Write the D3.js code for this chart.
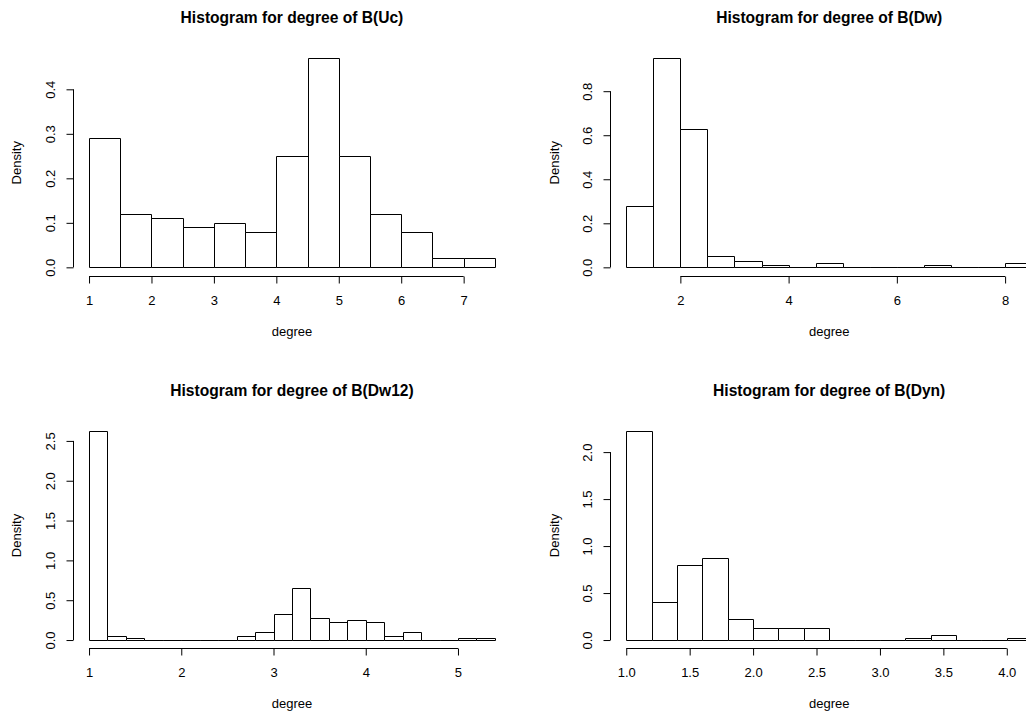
<!DOCTYPE html>
<html>
<head>
<meta charset="utf-8">
<script src="https://cdn.jsdelivr.net/npm/d3@7"></script>
<style>
  html, body { margin: 0; padding: 0; background: #fff; }
  svg { display: block; }
  text { font-family: "Liberation Sans", Arial, Helvetica, sans-serif; fill: #000; }
</style>
</head>
<body>
<svg id="chart" width="1026" height="713"></svg>
<script>
// ---------- Data ----------
// Panel 1: B(Uc)
const ucBreaks  = [1, 1.5, 2, 2.5, 3, 3.5, 4, 4.5, 5, 5.5, 6, 6.5, 7, 7.5];
const ucDensity = [0.29, 0.12, 0.11, 0.09, 0.10, 0.08, 0.25, 0.47, 0.25, 0.12, 0.08, 0.02, 0.02];
const ucXTicks  = [1, 2, 3, 4, 5, 6, 7];
const ucXLabels = ["1", "2", "3", "4", "5", "6", "7"];
const ucYTicks  = [0, 0.1, 0.2, 0.3, 0.4];
const ucYLabels = ["0.0", "0.1", "0.2", "0.3", "0.4"];

// Panel 2: B(Dw)
const dwBreaks  = [1, 1.5, 2, 2.5, 3, 3.5, 4, 4.5, 5, 5.5, 6, 6.5, 7, 7.5, 8, 8.5];
const dwDensity = [0.28, 0.95, 0.63, 0.05, 0.03, 0.01, 0, 0.02, 0, 0, 0, 0.01, 0, 0, 0.02];
const dwXTicks  = [2, 4, 6, 8];
const dwXLabels = ["2", "4", "6", "8"];
const dwYTicks  = [0, 0.2, 0.4, 0.6, 0.8];
const dwYLabels = ["0.0", "0.2", "0.4", "0.6", "0.8"];

// Panel 3: B(Dw12)
const dw12Breaks  = [1, 1.2, 1.4, 1.6, 1.8, 2, 2.2, 2.4, 2.6, 2.8, 3, 3.2, 3.4, 3.6, 3.8, 4, 4.2, 4.4, 4.6, 4.8, 5, 5.2, 5.4];
const dw12Density = [2.625, 0.05, 0.025, 0, 0, 0, 0, 0, 0.05, 0.1, 0.325, 0.65, 0.275, 0.225, 0.25, 0.225, 0.05, 0.1, 0, 0, 0.025, 0.025];
const dw12XTicks  = [1, 2, 3, 4, 5];
const dw12XLabels = ["1", "2", "3", "4", "5"];
const dw12YTicks  = [0, 0.5, 1, 1.5, 2, 2.5];
const dw12YLabels = ["0.0", "0.5", "1.0", "1.5", "2.0", "2.5"];

// Panel 4: B(Dyn)
const dynBreaks  = [1, 1.2, 1.4, 1.6, 1.8, 2, 2.2, 2.4, 2.6, 2.8, 3, 3.2, 3.4, 3.6, 3.8, 4, 4.2];
const dynDensity = [2.225, 0.4, 0.8, 0.875, 0.225, 0.125, 0.125, 0.125, 0, 0, 0, 0.025, 0.05, 0, 0, 0.025];
const dynXTicks  = [1, 1.5, 2, 2.5, 3, 3.5, 4];
const dynXLabels = ["1.0", "1.5", "2.0", "2.5", "3.0", "3.5", "4.0"];
const dynYTicks  = [0, 0.5, 1, 1.5, 2];
const dynYLabels = ["0.0", "0.5", "1.0", "1.5", "2.0"];

const titles = [
  "Histogram for degree of B(Uc)",
  "Histogram for degree of B(Dw)",
  "Histogram for degree of B(Dw12)",
  "Histogram for degree of B(Dyn)"
];

// ---------- Layout ----------
const svg = d3.select("#chart");
const FONT = 13;
const TITLE_FONT = 15.6;
const TICK = 7;

const panels = [
  { breaks: ucBreaks,   dens: ucDensity,   xt: ucXTicks,   xl: ucXLabels,   yt: ucYTicks,   yl: ucYLabels,   title: titles[0], box: [72.8, 511.1, 49.8, 275.7] },
  { breaks: dwBreaks,   dens: dwDensity,   xt: dwXTicks,   xl: dwXLabels,   yt: dwYTicks,   yl: dwYLabels,   title: titles[1], box: [610, 1048.4, 49.8, 275.7] },
  { breaks: dw12Breaks, dens: dw12Density, xt: dw12XTicks, xl: dw12XLabels, yt: dw12YTicks, yl: dw12YLabels, title: titles[2], box: [72.8, 511.1, 422.6, 648.4] },
  { breaks: dynBreaks,  dens: dynDensity,  xt: dynXTicks,  xl: dynXLabels,  yt: dynYTicks,  yl: dynYLabels,  title: titles[3], box: [610, 1048.4, 422.6, 648.4] }
];

panels.forEach(p => {
  const [x0, x1, y0, y1] = p.box;
  const lo = p.breaks[0], hi = p.breaks[p.breaks.length - 1];
  const ext = 0.04 * (hi - lo);
  const ymax = d3.max(p.dens);
  const x = d3.scaleLinear().domain([lo - ext, hi + ext]).range([x0, x1]);
  const y = d3.scaleLinear().domain([-0.04 * ymax, ymax * 1.04]).range([y1, y0]);

  const g = svg.append("g");

  // bars
  const bins = p.dens.map((d, i) => ({ a: p.breaks[i], b: p.breaks[i + 1], d }));
  g.append("g").selectAll("path").data(bins).join("path")
    .attr("d", b => {
      const xa = Math.round(x(b.a)) + 0.5, xb = Math.round(x(b.b)) + 0.5;
      const yb = Math.round(y(0)) + 0.5, yt = Math.round(y(b.d)) + 0.5;
      return `M${xa},${yb}V${yt}H${xb}V${yb}Z`;
    })
    .attr("fill", "#fff")
    .attr("stroke", "#000")
    .attr("stroke-width", 1);

  // x axis
  const xAxisY = Math.round(y1) + 0.5;
  const xa = g.append("g").attr("transform", `translate(0,${xAxisY})`)
    .call(d3.axisBottom(x).tickValues(p.xt).tickSize(TICK).tickPadding(12)
      .tickFormat((d, i) => p.xl[i]));
  xa.select(".domain").remove();
  xa.append("line")
    .attr("x1", x(p.xt[0])).attr("x2", x(p.xt[p.xt.length - 1]))
    .attr("stroke", "#000");
  xa.selectAll("text").attr("font-size", FONT).attr("font-family", null).style("fill", "#000");
  xa.selectAll(".tick line").attr("stroke", "#000");

  // y axis
  const yAxisX = Math.round(x0) + 0.5;
  const ya = g.append("g").attr("transform", `translate(${yAxisX},0)`)
    .call(d3.axisLeft(y).tickValues(p.yt).tickSize(TICK)
      .tickFormat((d, i) => p.yl[i]));
  ya.select(".domain").remove();
  ya.append("line")
    .attr("y1", y(p.yt[0])).attr("y2", y(p.yt[p.yt.length - 1]))
    .attr("stroke", "#000");
  ya.selectAll(".tick line").attr("stroke", "#000");
  ya.selectAll("text")
    .attr("x", null).attr("dy", null)
    .attr("text-anchor", "middle")
    .attr("transform", "translate(-19,0) rotate(-90)")
    .attr("font-size", FONT).attr("font-family", null).style("fill", "#000");

  // axis titles
  g.append("text")
    .attr("x", (x0 + x1) / 2).attr("y", y1 + 60)
    .attr("text-anchor", "middle").attr("font-size", FONT)
    .text("degree");
  g.append("text")
    .attr("transform", `translate(${x0 - 51.4},${(y0 + y1) / 2}) rotate(-90)`)
    .attr("text-anchor", "middle").attr("font-size", FONT)
    .text("Density");

  // main title
  g.append("text")
    .attr("x", (x0 + x1) / 2).attr("y", y0 - 27)
    .attr("text-anchor", "middle").attr("font-size", TITLE_FONT)
    .attr("font-weight", "bold")
    .text(p.title);
});
</script>
</body>
</html>
